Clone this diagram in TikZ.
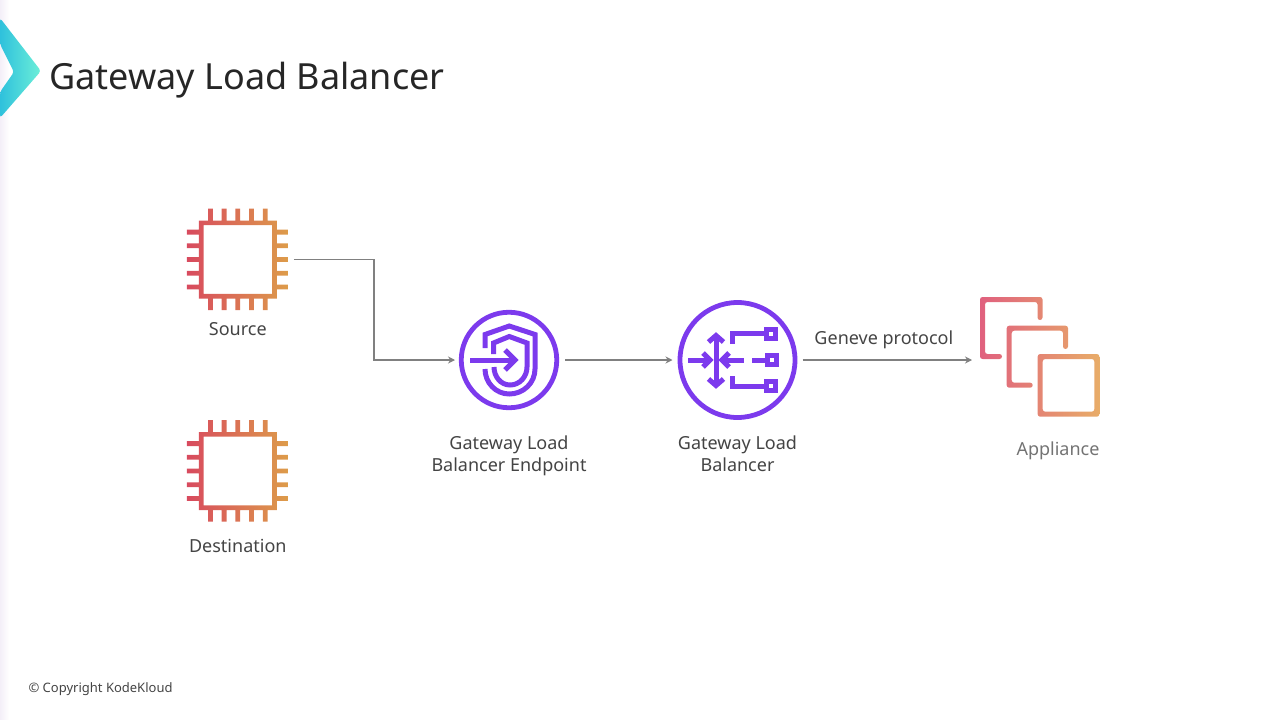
\documentclass[tikz,border=0pt]{standalone}
\usepackage{fontspec}
\setmainfont{Noto Sans}
\usetikzlibrary{arrows.meta}
\definecolor{chipred}{HTML}{D84A5E}
\definecolor{chiporange}{HTML}{DD9C4A}
\definecolor{applpink}{HTML}{E0607E}
\definecolor{applorange}{HTML}{E8AC68}
\definecolor{awspurple}{HTML}{7C3AED}
\definecolor{linkgray}{HTML}{808080}
\definecolor{labelgray}{HTML}{444444}
\definecolor{logoblue}{HTML}{2FC1DC}
\definecolor{logomint}{HTML}{6CEFD8}
\definecolor{sideband}{HTML}{F4EFF8}
\tikzset{
  iconbox/.style={minimum width=#1,minimum height=#1,inner sep=0pt,outer sep=0pt},
  ringnode/.style={draw=awspurple,circle,line width=4.8pt,inner sep=0pt},
  link/.style={-{Stealth[length=7pt,width=7pt]},draw=linkgray,line width=1.8pt},
  lbl/.style={text=labelgray,font=\fontsize{18}{22}\selectfont,align=center},
  glyph/.style={draw=awspurple,line width=5pt,fill=none},
  pics/chip/.style={code={
    \shade[left color=chipred,right color=chiporange,even odd rule]
      (-39,-39) rectangle (39,39) (-34.3,-34.3) rectangle (34.3,34.3)
      foreach \i in {-27.4,-13.7,0,13.7,27.4} {
        (\i-2.4,-51) rectangle (\i+2.4,-39)
        (\i-2.4,39) rectangle (\i+2.4,50.5)
        (-51,\i-2.4) rectangle (-39,\i+2.4)
        (39,\i-2.4) rectangle (50.5,\i+2.4)
      };
  }}
}
\begin{document}
\begin{tikzpicture}[x=1pt,y=-1pt]
\useasboundingbox (0,0) rectangle (1280,720);
\shade[left color=sideband,right color=white] (0,0) rectangle (9,720);
\shade[left color=logoblue,right color=logomint,rounded corners=3pt]
  (0,18) -- (41,71) -- (0,118) -- (0,92) -- (14,72) -- (0,44) -- cycle;

\node[text=black!85,font=\fontsize{36}{40}\selectfont,anchor=west] (title) at (45.7,80) {Gateway Load Balancer};

\node[iconbox=112pt] (srcchip) at (237.8,259.5) {};
\node[iconbox=112pt] (dstchip) [below of = srcchip,node distance=211.5pt] {};
\node[ringnode,minimum size=95.5pt,outer sep=6.25pt] (gwep) at (509,360) {};
\node[ringnode,minimum size=115pt,outer sep=7.5pt] (gwlb) [right of = gwep,node distance=228.5pt] {};
\node[iconbox=136pt] (appl) [right of = gwlb,node distance=302.5pt] {};
\coordinate (bend) at (374,259.5);

\pic at (srcchip) {chip};
\pic at (dstchip) {chip};

\draw[glyph] (485,348) -- (485,334.5) -- (509.3,326) -- (535,334.5) -- (535,369) to[out=-90,in=0] (509.3,394) to[out=180,in=-90] (485,369);
\draw[glyph] (493.5,354) -- (493.5,343) -- (509.3,336.5) -- (527,343) -- (527,367) to[out=-90,in=0] (510,385) to[out=180,in=-90] (494,367);
\draw[glyph] (470,360) -- (512,360);
\draw[glyph] (505,350) -- (515,360) -- (505,370);

\draw[glyph] (688,360) -- (708,360);
\draw[glyph] (703,353) -- (710,360) -- (703,367);
\draw[glyph] (716,338) -- (716,383);
\draw[glyph] (708.5,342) -- (716,335.5) -- (723.5,342);
\draw[glyph] (708.5,379) -- (716,385.5) -- (723.5,379);
\draw[glyph] (724,360) -- (744,360);
\draw[glyph] (729,353) -- (722,360) -- (729,367);
\draw[glyph] (752,360) -- (765,360);
\draw[glyph] (732,344) -- (732,333.5) -- (764,333.5);
\draw[glyph] (732,376) -- (732,386) -- (764,386);
\draw[glyph] (766.5,329.5) rectangle (775.5,338.5);
\draw[glyph] (767,355.5) rectangle (776,364.5);
\draw[glyph] (766.5,381) rectangle (775.5,390);

\shade[left color=applpink,right color=applorange,even odd rule,rounded corners=2.5pt]
  (1037.5,320) -- (1037.5,302) -- (985,302) -- (985,354) -- (1002,354) -- (1002,359) -- (980,359) -- (980,297) -- (1042.5,297) -- (1042.5,320) -- cycle
  (1063,349) -- (1063,330.7) -- (1011.7,330.7) -- (1011.7,382.7) -- (1032.7,382.7) -- (1032.7,387.7) -- (1006.7,387.7) -- (1006.7,325.7) -- (1068,325.7) -- (1068,349) -- cycle
  (1037.7,354) rectangle (1099.3,416.7) (1042.7,359) rectangle (1094.3,411.7);

\node[lbl] (srclbl) [below of = srcchip,node distance=69.5pt] {Source};
\node[lbl] (dstlbl) [below of = dstchip,node distance=75pt] {Destination};
\node[lbl] (gweplbl) [below of = gwep,node distance=96pt] {Gateway Load\\Balancer Endpoint};
\node[lbl] (gwlblbl) [below of = gwlb,node distance=94pt] {Gateway Load\\Balancer};
\node[lbl,text=black!55] (appllbl) at (1058,451) {Appliance};
\node[text=labelgray,font=\fontsize{13}{15}\selectfont,anchor=west] (copyright) at (25,689) {© Copyright KodeKloud};

\draw[link] (srcchip.east) -- (bend) |- (gwep.west);
\draw[link] ([xshift=2pt]gwep.east) -- (gwlb.west);
\draw[link] (gwlb.east) -- node [lbl,above=7pt,pos=0.48] (genevelbl) {Geneve protocol} (appl.west);
\end{tikzpicture}
\end{document}
